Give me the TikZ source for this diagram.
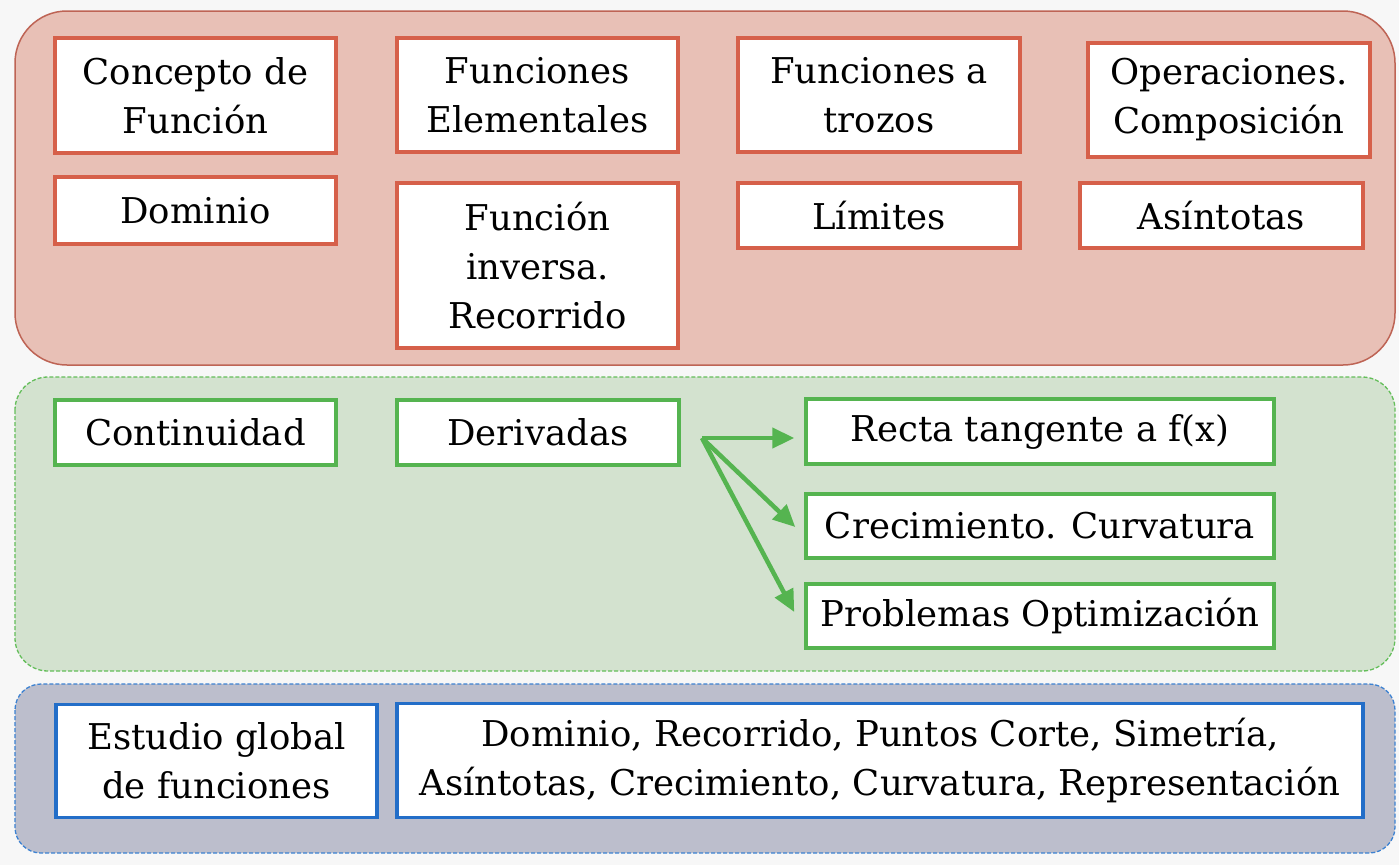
\documentclass[tikz,border=0pt]{standalone}
\usepackage{fontspec}
\setmainfont{DejaVu Serif}
\usetikzlibrary{arrows.meta}
\definecolor{bgc}{RGB}{247,247,247}
\definecolor{redfill}{RGB}{232,192,182}
\definecolor{redpanel}{RGB}{190,100,85}
\definecolor{redbox}{RGB}{214,96,74}
\definecolor{greenfill}{RGB}{211,226,207}
\definecolor{greenpanel}{RGB}{100,190,90}
\definecolor{greenbox}{RGB}{85,180,80}
\definecolor{bluefill}{RGB}{188,190,204}
\definecolor{bluepanel}{RGB}{60,130,210}
\definecolor{bluebox}{RGB}{35,110,200}
\begin{document}
\begin{tikzpicture}[x=1pt,y=-1pt,
  box/.style={draw, line width=3.5pt, fill=white, inner sep=0pt, align=center,
    font=\fontsize{35.5}{49}\selectfont},
  rbox/.style={box, draw=redbox},
  gbox/.style={box, draw=greenbox},
  bbox/.style={box, draw=bluebox},
  garrow/.style={draw=greenbox, line width=4.5pt, -{Triangle[length=22pt,width=20pt]}, fill=greenbox}
]
\fill[bgc] (0,0) rectangle (1399,865);
\useasboundingbox (0,0) rectangle (1399,865);
% panels
\draw[redpanel, fill=redfill, line width=1.5pt, rounded corners=52pt] (15,11) rectangle (1395,365);
\draw[greenpanel, fill=greenfill, line width=1.3pt, dash pattern=on 4pt off 2pt, rounded corners=33pt] (15,377) rectangle (1395,671);
\draw[bluepanel, fill=bluefill, line width=1.3pt, dash pattern=on 4pt off 2pt, rounded corners=26pt] (15,684) rectangle (1395,853);
% red boxes
\node[rbox, minimum width=281pt, minimum height=115pt] (c1) at (195.5,95.5) {Concepto de\\Función};
\node[rbox, minimum width=281pt, minimum height=114pt] (c2) at (537.5,95) {Funciones\\Elementales};
\node[rbox, minimum width=282pt, minimum height=114pt] (c3) at (879,95) {Funciones a\\trozos};
\node[rbox, minimum width=282pt, minimum height=114pt] (c4) at (1229,100) {Operaciones.\\Composición};
\node[rbox, minimum width=281pt, minimum height=67pt] (c5) at (195.5,210.5) {Dominio};
\node[rbox, minimum width=281pt, minimum height=165pt] (c6) at (537.5,265.5) {Función\\inversa.\\Recorrido};
\node[rbox, minimum width=282pt, minimum height=65pt] (c7) at (879,215.5) {Límites};
\node[rbox, minimum width=283pt, minimum height=65pt] (c8) at (1221.5,215.5) {Asíntotas};
% green boxes
\node[gbox, minimum width=281pt, minimum height=65pt] (g1) at (195.5,432.5) {Continuidad};
\node[gbox, minimum width=282pt, minimum height=65pt] (g2) at (538,432.5) {Derivadas};
\node[gbox, minimum width=468pt, minimum height=65pt] (g3) at (1040,431.5) {Recta tangente a f(x)};
\node[gbox, minimum width=468pt, minimum height=64pt] (g4) at (1040,526) {Crecimiento. Curvatura};
\node[gbox, minimum width=468pt, minimum height=64pt] (g5) at (1040,616) {Problemas Optimización};
% arrows
\coordinate (src) at (702,438);
\draw[garrow] (src) -- ([xshift=-10pt,yshift=-6.5pt]g3.west);
\draw[garrow] (src) -- ([xshift=-9pt,yshift=-1pt]g4.west);
\draw[garrow] (src) -- ([xshift=-10pt,yshift=4pt]g5.west);
% blue boxes
\node[bbox, minimum width=321pt, minimum height=113pt] (b1) at (216.5,761) {Estudio global\\de funciones};
\node[bbox, minimum width=966pt, minimum height=114pt] (b2) at (880,760.5) {Dominio, Recorrido, Puntos Corte, Simetría,\\Asíntotas, Crecimiento, Curvatura, Representación};
\end{tikzpicture}
\end{document}
